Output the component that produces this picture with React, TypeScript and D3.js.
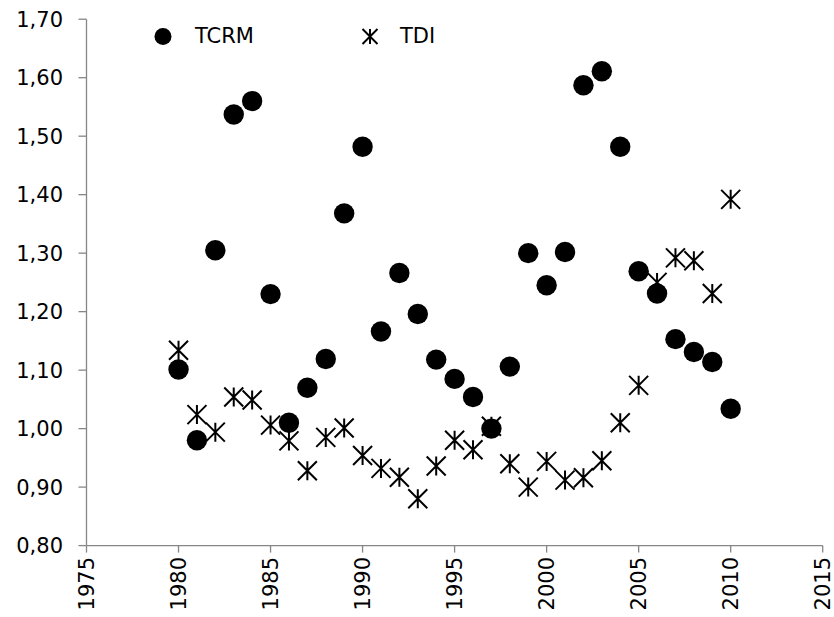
import React from "react";
import * as d3 from "d3";

const years: number[] = [
  1980, 1981, 1982, 1983, 1984, 1985, 1986, 1987, 1988, 1989,
  1990, 1991, 1992, 1993, 1994, 1995, 1996, 1997, 1998, 1999,
  2000, 2001, 2002, 2003, 2004, 2005, 2006, 2007, 2008, 2009, 2010,
];

const tcrm: number[] = [
  1.101, 0.980, 1.305, 1.537, 1.560, 1.230, 1.010, 1.070, 1.119, 1.368,
  1.482, 1.166, 1.266, 1.196, 1.118, 1.085, 1.054, 1.000, 1.106, 1.300,
  1.245, 1.302, 1.587, 1.611, 1.482, 1.269, 1.231, 1.153, 1.131, 1.114, 1.034,
];

const tdi: number[] = [
  1.134, 1.024, 0.994, 1.054, 1.049, 1.006, 0.979, 0.928, 0.985, 1.001,
  0.954, 0.932, 0.917, 0.880, 0.936, 0.980, 0.964, 1.004, 0.940, 0.900,
  0.944, 0.912, 0.916, 0.945, 1.010, 1.074, 1.250, 1.292, 1.287, 1.231, 1.392,
];

const xTicks: number[] = [1975, 1980, 1985, 1990, 1995, 2000, 2005, 2010, 2015];
const yTicks: number[] = [0.8, 0.9, 1.0, 1.1, 1.2, 1.3, 1.4, 1.5, 1.6, 1.7];
const seriesNames: string[] = ["TCRM", "TDI"];

const W = 834;
const H = 617;
const FONT = "'DejaVu Sans', sans-serif";
const AXIS = "#868686";

const fmtY = (v: number) => d3.format(".2f")(v).replace(".", ",");

function Star({ cx, cy, s, sw }: { cx: number; cy: number; s: number; sw: number }) {
  const h = s / 2;
  const path = d3.path();
  path.moveTo(cx - h, cy - h);
  path.lineTo(cx + h, cy + h);
  path.moveTo(cx + h, cy - h);
  path.lineTo(cx - h, cy + h);
  path.moveTo(cx, cy - h);
  path.lineTo(cx, cy + h);
  return <path d={path.toString()} stroke="#000" strokeWidth={sw} fill="none" />;
}

export default function App() {
  const x = d3.scaleLinear().domain([1975, 2015]).range([86.5, 822.7]);
  const y = d3.scaleLinear().domain([0.8, 1.7]).range([545.6, 19.2]);
  const [x0, x1] = x.range();
  const [y0, y1] = y.range();

  return (
    <svg
      width={W}
      height={H}
      style={{ position: "absolute", left: 0, top: 0, background: "#fff" }}
      fontFamily={FONT}
    >
      <rect x={0} y={0} width={W} height={H} fill="#fff" />
      {/* axes */}
      <line x1={x0} x2={x0} y1={y1} y2={y0} stroke={AXIS} strokeWidth={1.3} />
      <line x1={x0} x2={x1} y1={y0} y2={y0} stroke={AXIS} strokeWidth={1.3} />
      {yTicks.map((t) => (
        <g key={"y" + t}>
          <line x1={x0 - 8} x2={x0} y1={y(t)} y2={y(t)} stroke={AXIS} strokeWidth={1.3} />
          <text x={63} y={y(t)} dy="0.36em" textAnchor="end" fontSize={21} fill="#000">
            {fmtY(t)}
          </text>
        </g>
      ))}
      {xTicks.map((t) => (
        <g key={"x" + t}>
          <line x1={x(t)} x2={x(t)} y1={y0} y2={y0 + 7} stroke={AXIS} strokeWidth={1.3} />
          <text
            transform={`translate(${x(t)},${557}) rotate(-90)`}
            dy="0.36em"
            textAnchor="end"
            fontSize={21}
            fill="#000"
          >
            {t}
          </text>
        </g>
      ))}
      {/* TDI stars */}
      {years.map((yr, i) => (
        <Star key={"s" + yr} cx={x(yr)} cy={y(tdi[i])} s={19} sw={2} />
      ))}
      {/* TCRM circles */}
      {years.map((yr, i) => (
        <circle key={"c" + yr} cx={x(yr)} cy={y(tcrm[i])} r={10.2} fill="#000" />
      ))}
      {/* legend */}
      <circle cx={163} cy={36.5} r={8.5} fill="#000" />
      <text x={195} y={43.3} fontSize={21} fill="#000">{seriesNames[0]}</text>
      <Star cx={370} cy={36.5} s={15} sw={2} />
      <text x={400} y={43.3} fontSize={21} fill="#000">{seriesNames[1]}</text>
    </svg>
  );
}
